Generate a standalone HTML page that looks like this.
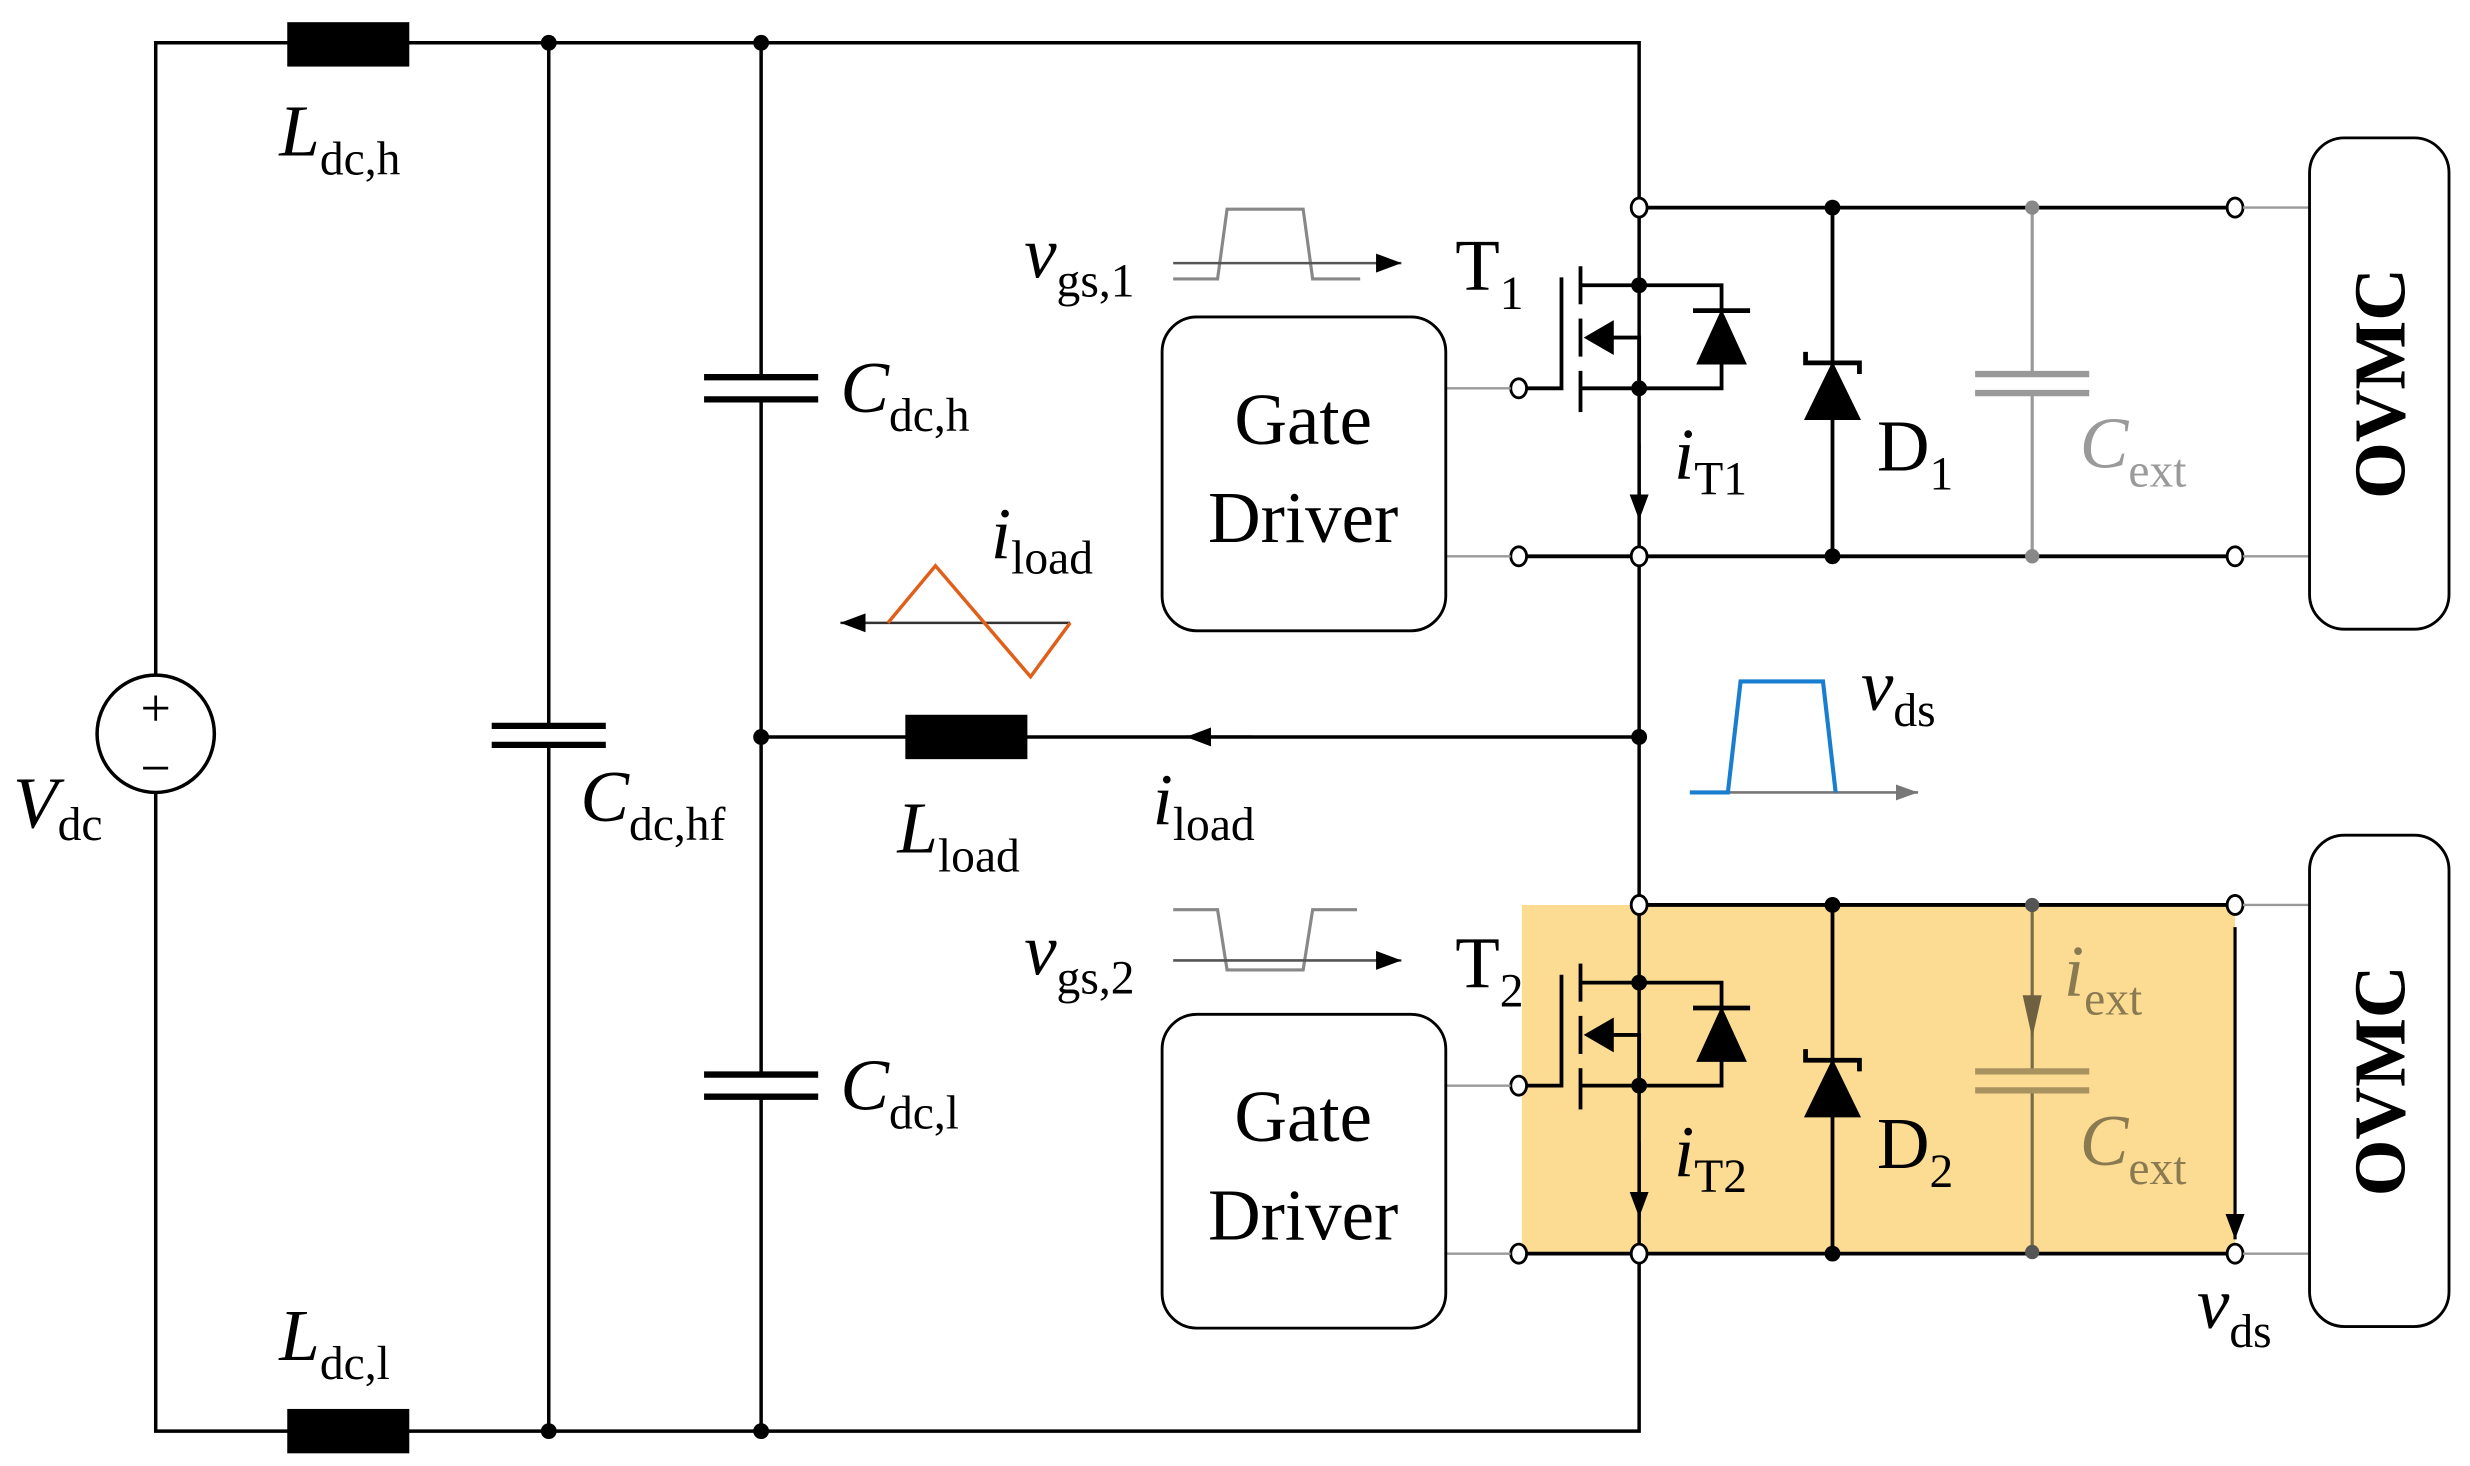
<!DOCTYPE html>
<html><head><meta charset="utf-8"><style>
html,body{margin:0;padding:0;background:#fff}
svg{display:block}
text{font-family:"Liberation Serif",serif}
</style></head><body>
<svg width="2470" height="1466" viewBox="0 0 1558 925" xmlns="http://www.w3.org/2000/svg">
<defs>
<marker id="ah" viewBox="0 0 10 10" refX="10" refY="5" markerWidth="16" markerHeight="12" orient="auto" markerUnits="userSpaceOnUse" preserveAspectRatio="none"><path d="M0,0 L10,5 L0,10 z" fill="#000"/></marker>
<marker id="ahg" viewBox="0 0 10 10" refX="10" refY="5" markerWidth="14" markerHeight="10" orient="auto" markerUnits="userSpaceOnUse" preserveAspectRatio="none"><path d="M0,0 L10,5 L0,10 z" fill="#777"/></marker>
</defs>
<rect x="960" y="571" width="450" height="219" fill="#fcdc93"/>
<g stroke="#000" stroke-width="2.2" fill="none">
<polyline points="98,426 98,27 1034,27 1034,903 98,903 98,500"/>
<line x1="346" y1="27" x2="346" y2="458"/><line x1="346" y1="470" x2="346" y2="903"/>
<line x1="480" y1="27" x2="480" y2="238"/><line x1="480" y1="252" x2="480" y2="678"/><line x1="480" y1="692" x2="480" y2="903"/>
<line x1="480" y1="465" x2="1034" y2="465"/>
<g stroke-width="4">
<line x1="310" y1="458" x2="382" y2="458"/><line x1="310" y1="470" x2="382" y2="470"/>
<line x1="444" y1="238" x2="516" y2="238"/><line x1="444" y1="252" x2="516" y2="252"/>
<line x1="444" y1="678" x2="516" y2="678"/><line x1="444" y1="692" x2="516" y2="692"/>
</g>
<circle cx="98" cy="463" r="37" fill="#fff"/>
</g>
<text x="98" y="458" font-size="34" text-anchor="middle">+</text>
<text x="98" y="496" font-size="34" text-anchor="middle">−</text>
<rect x="181" y="14" width="77" height="28" fill="#000"/>
<rect x="181" y="889" width="77" height="28" fill="#000"/>
<rect x="571" y="451" width="77" height="28" fill="#000"/>
<line x1="790" y1="465" x2="748" y2="465" stroke="#000" stroke-width="2" marker-end="url(#ah)"/>
<g fill="#000">
<circle cx="346" cy="27" r="5"/><circle cx="480" cy="27" r="5"/><circle cx="346" cy="903" r="5"/><circle cx="480" cy="903" r="5"/><circle cx="480" cy="465" r="5"/><circle cx="1034" cy="465" r="5"/>
</g>

<g id="cell">
<g stroke="#000" stroke-width="2.4" fill="none">
<line x1="1034" y1="131" x2="1410" y2="131"/>
<line x1="958" y1="351" x2="1410" y2="351"/>
<line x1="1156" y1="131" x2="1156" y2="351"/>
<polyline points="958,245 985,245 985,175"/>
<line x1="997" y1="168" x2="997" y2="192"/><line x1="997" y1="201" x2="997" y2="225"/><line x1="997" y1="234" x2="997" y2="260"/>
<polyline points="997,180 1086,180 1086,245 997,245"/>
<polyline points="1012,213 1034,213 1034,245"/>
</g>
<path d="M999,213 L1018,202 L1018,224 z" fill="#000"/>
<path d="M1086,195 L1070,230 L1102,230 z" fill="#000"/>
<line x1="1068" y1="196" x2="1104" y2="196" stroke="#000" stroke-width="3"/>
<path d="M1156,228 L1138,265 L1174,265 z" fill="#000"/>
<polyline points="1139,222 1139,229 1173,229 1173,236" fill="none" stroke="#000" stroke-width="3"/>
<line x1="1034" y1="280" x2="1034" y2="328" stroke="#000" stroke-width="2" marker-end="url(#ah)"/>
<g fill="#000"><circle cx="1034" cy="180" r="5"/><circle cx="1034" cy="245" r="5"/><circle cx="1156" cy="131" r="5"/><circle cx="1156" cy="351" r="5"/></g>
<g fill="#fff" stroke="#000" stroke-width="1.8">
<ellipse cx="1034" cy="131" rx="5" ry="6"/><ellipse cx="1034" cy="351" rx="5" ry="6"/><ellipse cx="958" cy="245" rx="5" ry="6"/><ellipse cx="958" cy="351" rx="5" ry="6"/><ellipse cx="1410" cy="131" rx="5" ry="6"/><ellipse cx="1410" cy="351" rx="5" ry="6"/>
</g>
<g stroke="#999" stroke-width="1.5"><line x1="912" y1="245" x2="953" y2="245"/><line x1="912" y1="351" x2="953" y2="351"/><line x1="1415" y1="131" x2="1457" y2="131"/><line x1="1415" y1="351" x2="1457" y2="351"/></g>
<rect x="733" y="200" width="179" height="198" rx="22" fill="none" stroke="#000" stroke-width="1.8"/>
<text x="822" y="280" font-size="46" text-anchor="middle">Gate</text>
<text x="822" y="342" font-size="46" text-anchor="middle">Driver</text>
<rect x="1457" y="87" width="88" height="310" rx="22" fill="none" stroke="#000" stroke-width="1.8"/>
</g>
<use href="#cell" transform="translate(0,440)"/>

<g stroke="#999" stroke-width="2" fill="none">
<line x1="1282" y1="131" x2="1282" y2="236"/><line x1="1282" y1="248" x2="1282" y2="351"/>
<line x1="1246" y1="236" x2="1318" y2="236" stroke-width="4"/><line x1="1246" y1="248" x2="1318" y2="248" stroke-width="4"/>
</g>
<circle cx="1282" cy="131" r="4.5" fill="#888"/><circle cx="1282" cy="351" r="4.5" fill="#888"/>
<g stroke="#7a6a48" stroke-width="2" fill="none">
<line x1="1282" y1="571" x2="1282" y2="676"/><line x1="1282" y1="688" x2="1282" y2="790"/>
<line x1="1246" y1="676" x2="1318" y2="676" stroke="#a89260" stroke-width="4"/><line x1="1246" y1="688" x2="1318" y2="688" stroke="#a89260" stroke-width="4"/>
</g>
<path d="M1282,655 L1276,628 L1288,628 z" fill="#6e6040"/>
<circle cx="1282" cy="571" r="4.5" fill="#555"/><circle cx="1282" cy="790" r="4.5" fill="#555"/>
<line x1="1410" y1="585" x2="1410" y2="782" stroke="#000" stroke-width="2" marker-end="url(#ah)"/>

<text transform="translate(1517,242) rotate(-90)" font-size="46" font-weight="bold" text-anchor="middle">OVMC</text>
<text transform="translate(1517,682) rotate(-90)" font-size="46" font-weight="bold" text-anchor="middle">OVMC</text>

<g fill="none" stroke="#888" stroke-width="2">
<polyline points="740,176 768,176 774,132 822,132 828,176 858,176"/>
<polyline points="740,574 768,574 774,612 822,612 828,574 856,574"/>
</g>
<line x1="740" y1="166" x2="884" y2="166" stroke="#555" stroke-width="1.6" marker-end="url(#ah)"/>
<line x1="740" y1="606" x2="884" y2="606" stroke="#555" stroke-width="1.6" marker-end="url(#ah)"/>
<line x1="675" y1="393" x2="530" y2="393" stroke="#333" stroke-width="1.6" marker-end="url(#ah)"/>
<polyline points="560,393 590,357 650,427 675,393" fill="none" stroke="#e0601a" stroke-width="2.2"/>
<line x1="1066" y1="500" x2="1210" y2="500" stroke="#777" stroke-width="1.6" marker-end="url(#ahg)"/>
<polyline points="1066,500 1090,500 1098,430 1150,430 1158,500" fill="none" stroke="#1a7ed0" stroke-width="2.6"/>

<g font-size="46">
<text x="8" y="522" font-style="italic">V<tspan font-size="30" font-style="normal" dy="8">dc</tspan></text>
<text x="176" y="98" font-style="italic">L<tspan font-size="30" font-style="normal" dy="12">dc,h</tspan></text>
<text x="176" y="858" font-style="italic">L<tspan font-size="30" font-style="normal" dy="12">dc,l</tspan></text>
<text x="366" y="518" font-style="italic">C<tspan font-size="30" font-style="normal" dy="12">dc,hf</tspan></text>
<text x="530" y="260" font-style="italic">C<tspan font-size="30" font-style="normal" dy="12">dc,h</tspan></text>
<text x="530" y="700" font-style="italic">C<tspan font-size="30" font-style="normal" dy="12">dc,l</tspan></text>
<text x="566" y="538" font-style="italic">L<tspan font-size="30" font-style="normal" dy="12">load</tspan></text>
<text x="727" y="520" font-style="italic">i<tspan font-size="30" font-style="normal" dy="10">load</tspan></text>
<text x="625" y="352" font-style="italic">i<tspan font-size="30" font-style="normal" dy="10">load</tspan></text>
<text x="646" y="175" font-style="italic">v<tspan font-size="30" font-style="normal" dy="12">gs,1</tspan></text>
<text x="646" y="615" font-style="italic">v<tspan font-size="30" font-style="normal" dy="12">gs,2</tspan></text>
<text x="918" y="183">T<tspan font-size="30" dy="12">1</tspan></text>
<text x="918" y="623">T<tspan font-size="30" dy="12">2</tspan></text>
<text x="1056" y="302" font-style="italic">i<tspan font-size="30" font-style="normal" dy="10">T1</tspan></text>
<text x="1056" y="742" font-style="italic">i<tspan font-size="30" font-style="normal" dy="10">T2</tspan></text>
<text x="1184" y="297">D<tspan font-size="30" dy="12">1</tspan></text>
<text x="1184" y="737">D<tspan font-size="30" dy="12">2</tspan></text>
<text x="1312" y="295" font-style="italic" fill="#9a9a9a">C<tspan font-size="30" font-style="normal" dy="12">ext</tspan></text>
<text x="1312" y="735" font-style="italic" fill="#8a7a52">C<tspan font-size="30" font-style="normal" dy="12">ext</tspan></text>
<text x="1302" y="628" font-style="italic" fill="#8a7a52">i<tspan font-size="30" font-style="normal" dy="12">ext</tspan></text>
<text x="1174" y="448" font-style="italic">v<tspan font-size="30" font-style="normal" dy="10">ds</tspan></text>
<text x="1386" y="838" font-style="italic">v<tspan font-size="30" font-style="normal" dy="12">ds</tspan></text>
</g>
</svg>
</body></html>
